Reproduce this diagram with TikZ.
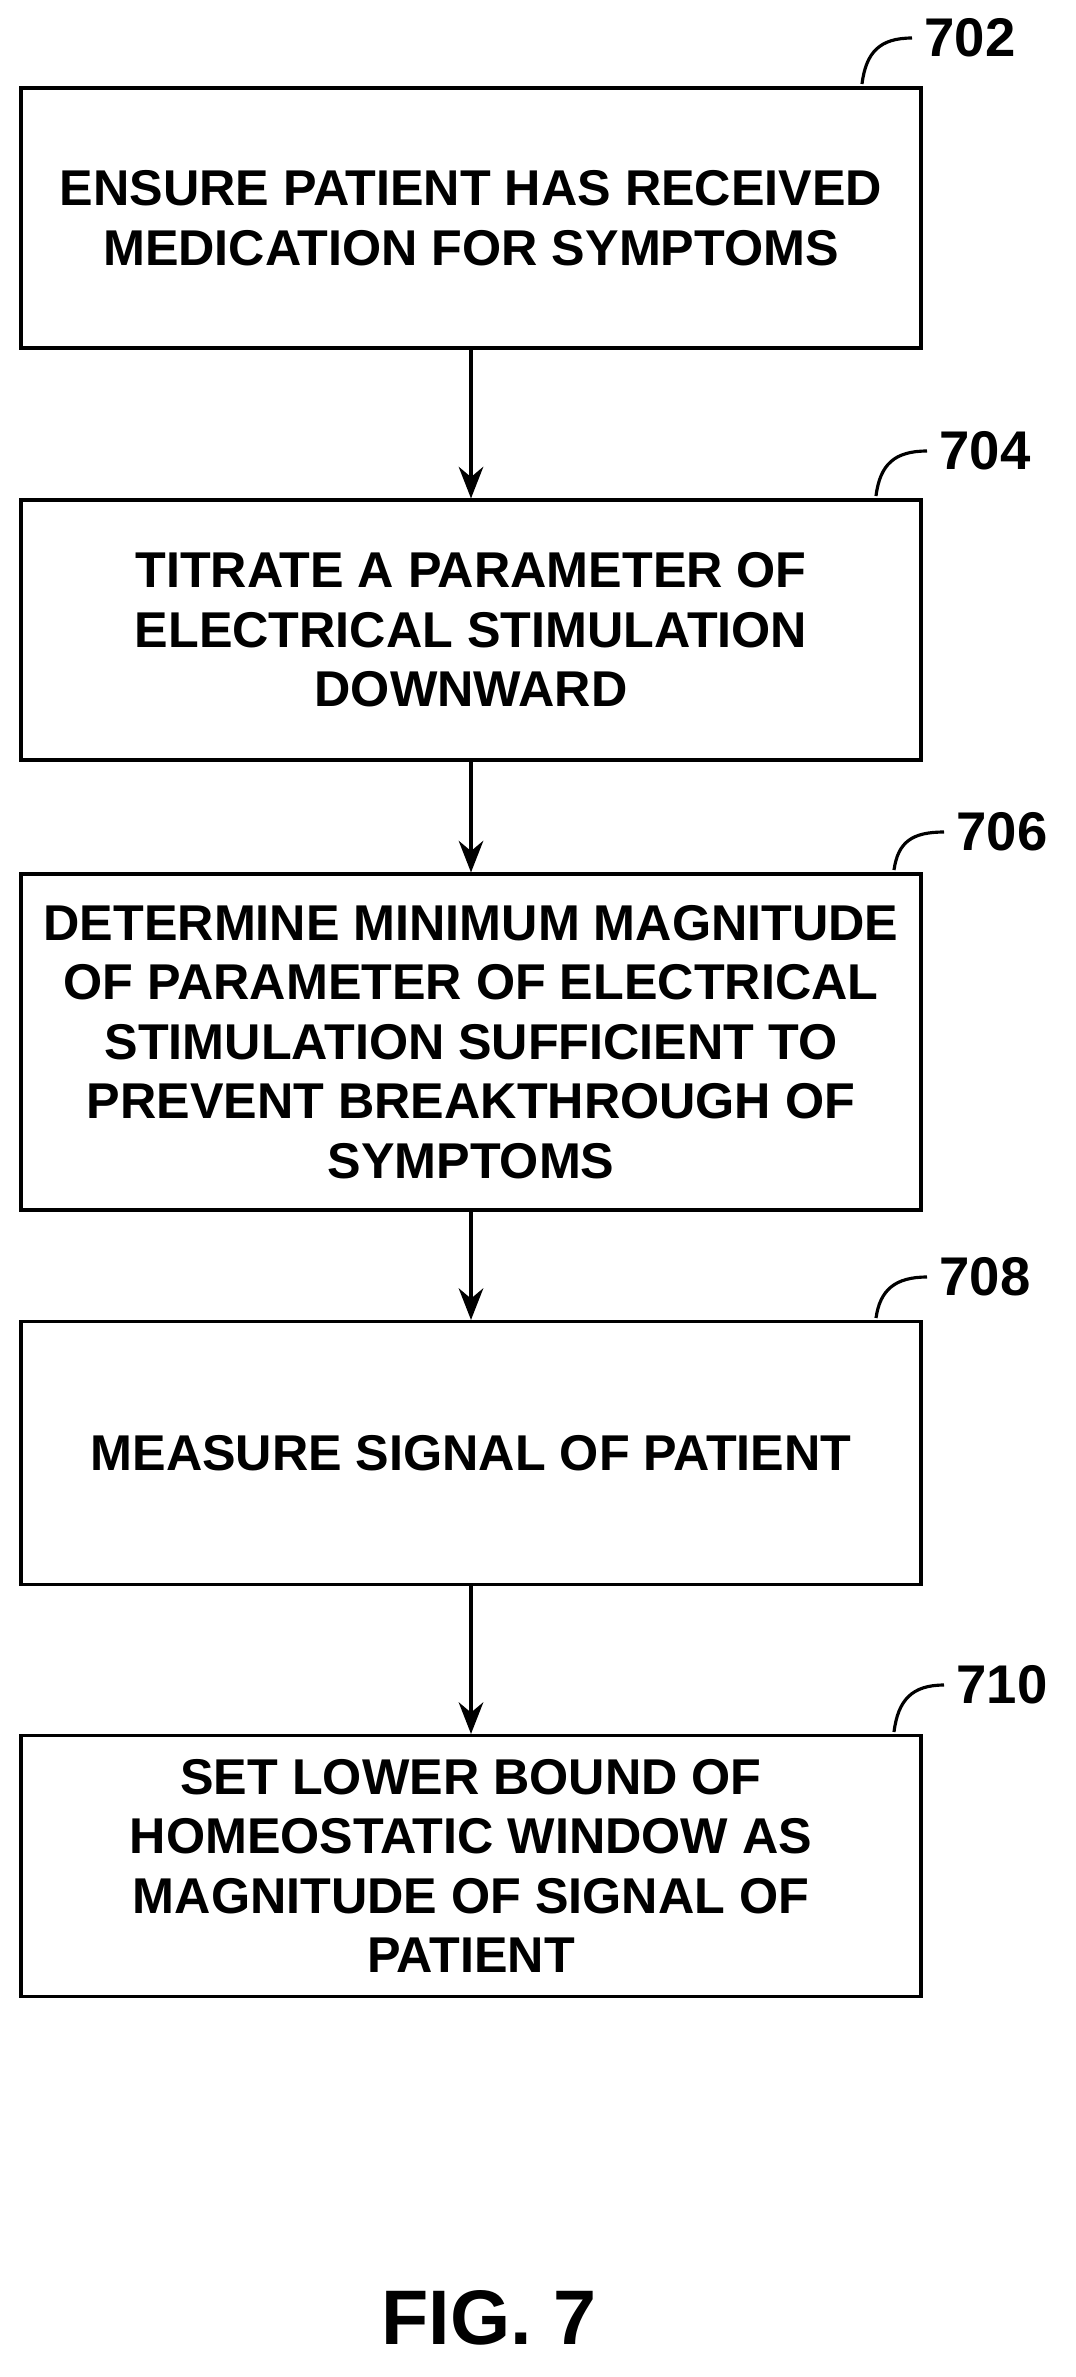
\documentclass[tikz,border=0pt]{standalone}
\usepackage{fontspec}
\setmainfont{Liberation Sans}
\usetikzlibrary{arrows.meta}
\begin{document}
\begin{tikzpicture}[x=0.01cm,y=-0.01cm,
  box/.style={draw,line width=0.9pt,minimum width=900*0.01cm,align=center,font=\bfseries\fontsize{14.3}{16.9}\selectfont,inner sep=0pt},
  arr/.style={-{Stealth[length=9pt,width=7pt]},line width=0.9pt},
  lab/.style={font=\bfseries\fontsize{15.5}{18}\selectfont},
  hook/.style={line width=0.9pt}]
\useasboundingbox (0,0) rectangle (1076,2377);
\node[box,minimum height=260*0.01cm] (b1) at (471,218) {ENSURE PATIENT HAS RECEIVED\\MEDICATION FOR SYMPTOMS};
\node[box,minimum height=260*0.01cm] (b2) at (471,630) {TITRATE A PARAMETER OF\\ELECTRICAL STIMULATION\\DOWNWARD};
\node[box,minimum height=336*0.01cm] (b3) at (471,1042) {DETERMINE MINIMUM MAGNITUDE\\OF PARAMETER OF ELECTRICAL\\STIMULATION SUFFICIENT TO\\PREVENT BREAKTHROUGH OF\\SYMPTOMS};
\node[box,minimum height=263*0.01cm] (b4) at (471,1453) {MEASURE SIGNAL OF PATIENT};
\node[box,minimum height=261*0.01cm] (b5) at (471,1866) {SET LOWER BOUND OF\\HOMEOSTATIC WINDOW AS\\MAGNITUDE OF SIGNAL OF\\PATIENT};
\draw[arr] (b1) -- (b2);
\draw[arr] (b2) -- (b3);
\draw[arr] (b3) -- (b4);
\draw[arr] (b4) -- (b5);
\node[lab,anchor=west] (l1) at (912,38) {702};
\node[lab,anchor=west] (l2) at (927,451) {704};
\node[lab,anchor=west] (l3) at (944,832) {706};
\node[lab,anchor=west] (l4) at (927,1277) {708};
\node[lab,anchor=west] (l5) at (944,1685) {710};
\draw[hook] (862,84) .. controls (866,52) and (880,38) .. (l1.west);
\draw[hook] (876,496) .. controls (880,464) and (895,451) .. (l2.west);
\draw[hook] (894,870) .. controls (898,842) and (912,832) .. (l3.west);
\draw[hook] (876,1318) .. controls (880,1290) and (895,1277) .. (l4.west);
\draw[hook] (894,1732) .. controls (898,1700) and (912,1685) .. (l5.west);
\node[font=\bfseries\fontsize{22}{26}\selectfont] (fig) at (489,2318) {FIG. 7};
\end{tikzpicture}
\end{document}
